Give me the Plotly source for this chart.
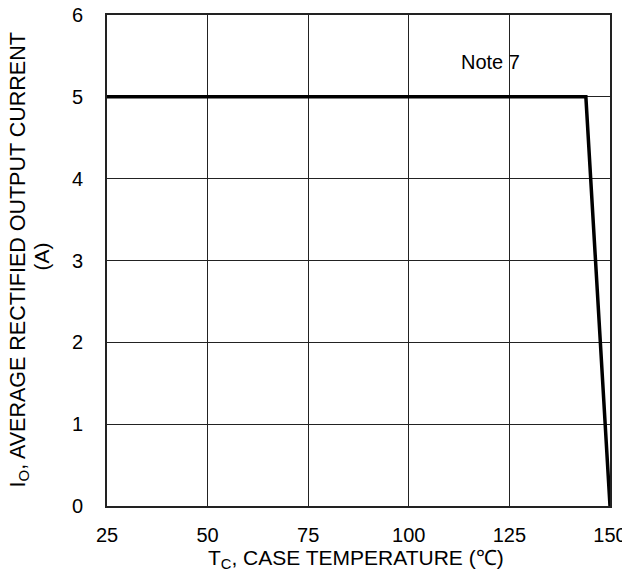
import plotly.graph_objects as go

temp_c = [25, 144, 150]
current_a = [5, 5, 0]
x_ticks = [25, 50, 75, 100, 125, 150]
y_ticks = [0, 1, 2, 3, 4, 5, 6]
x_title = "T<sub>C</sub>, CASE TEMPERATURE (℃)"
y_title_line1 = "I<sub>O</sub>, AVERAGE RECTIFIED OUTPUT CURRENT"
y_title_line2 = "(A)"
note_text = "Note 7"

font = "Liberation Sans"
fig = go.Figure()
fig.add_trace(go.Scatter(x=temp_c, y=current_a, mode="lines",
                         line=dict(color="black", width=3.5), showlegend=False))
fig.add_annotation(x=120.2, y=5.43, text=note_text, showarrow=False,
                   font=dict(family=font, size=20, color="black"))
fig.add_annotation(xref="paper", yref="paper", x=0.5, y=0, xshift=-3, yshift=-53,
                   xanchor="center", yanchor="middle", text=x_title, showarrow=False,
                   font=dict(family=font, size=21, color="black"))
fig.add_annotation(xref="paper", yref="paper", x=0, y=0.5, xshift=-88, yshift=0,
                   xanchor="center", yanchor="middle", textangle=-90, text=y_title_line1,
                   showarrow=False, font=dict(family=font, size=21.5, color="black"))
fig.add_annotation(xref="paper", yref="paper", x=0, y=0.5, xshift=-66, yshift=4,
                   xanchor="center", yanchor="middle", textangle=-90, text=y_title_line2,
                   showarrow=False, font=dict(family=font, size=21, color="black"))
axis_common = dict(showgrid=True, gridcolor="#222", gridwidth=1, zeroline=False,
                   showline=True, linecolor="#222", linewidth=2, mirror=True,
                   ticks="", ticklen=0, automargin=False, ticklabeloverflow="allow",
                   tickfont=dict(family=font, size=20, color="black"))
fig.update_layout(
    width=622, height=563,
    margin=dict(l=99, r=20, t=7, b=65, autoexpand=False),
    paper_bgcolor="white", plot_bgcolor="white",
    font=dict(family=font, size=20, color="black"),
    xaxis=dict(range=[25, 150], tickvals=x_ticks, ticklabelstandoff=10, **axis_common),
    yaxis=dict(range=[0, 6], tickvals=y_ticks, ticklabelstandoff=18, **axis_common),
)
fig.write_html("out.html")
